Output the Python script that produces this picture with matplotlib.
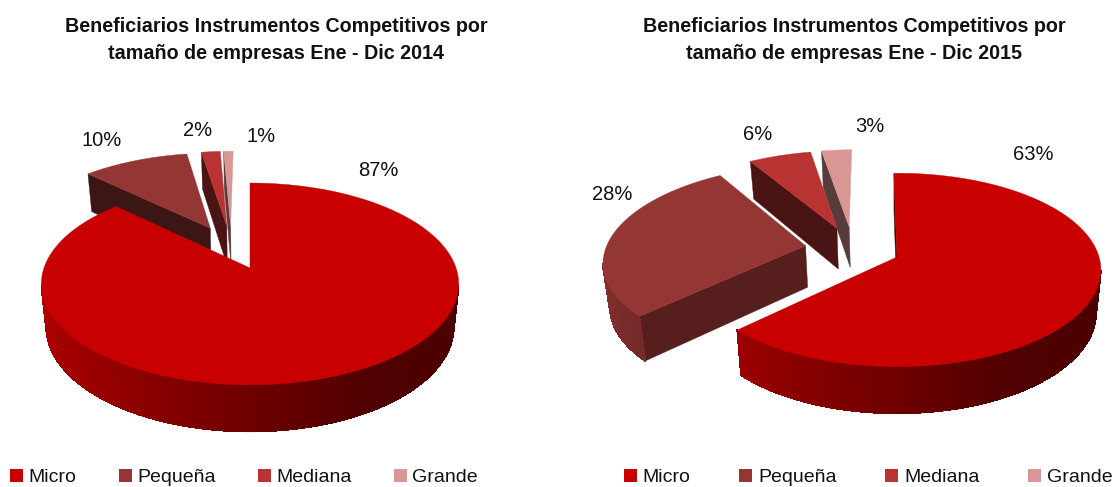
import matplotlib
matplotlib.use("Agg")
import matplotlib.pyplot as plt
from matplotlib.collections import LineCollection, PolyCollection
from matplotlib.colors import to_rgb
from matplotlib.patches import Polygon, Rectangle
import numpy as np

plt.rcParams['font.family'] = ['Liberation Sans', 'DejaVu Sans']

categories = ['Micro', 'Pequeña', 'Mediana', 'Grande']
values_2014 = [87.2, 10.1, 1.8, 0.9]
values_2015 = [63, 28.4, 5.8, 2.8]
colors = ['#C80000', '#943634', '#BA3333', '#D99694']
title_2014 = 'Beneficiarios Instrumentos Competitivos por\ntamaño de empresas Ene - Dic 2014'
title_2015 = 'Beneficiarios Instrumentos Competitivos por\ntamaño de empresas Ene - Dic 2015'

W, H = 1114, 487
EXPLODE = 0.24
DEPTH = 42
TEXT_COLOR = '#111111'


def shade(color, f):
    return tuple(c * f for c in to_rgb(color))


def wall_factor(u):
    # lighter on the left, dark on the right
    return np.interp(u, [-1, 0, 0.5, 1], [0.87, 0.55, 0.40, 0.38])


def draw_pie(ax, values, x0, y0, a, b, k, start, label_pos):
    def top(u, v):
        s = 1 + k * v
        return x0 + a * u / s, y0 - b * v / s

    def bottom(u, v):
        # the lower face sits a bit smaller because of the perspective
        x, y = top(u, v)
        return x0 + (x - x0) * 0.977, y + DEPTH / (1 + 0.1 * v)

    def flat_wall(i, cu, cv, u, v, f):
        c = shade(colors[i], f)
        p0, p1 = top(cu, cv), top(u, v)
        p2, p3 = bottom(u, v), bottom(cu, cv)
        ax.add_patch(Polygon([p0, p1, p2, p3], fc=c, ec=c, lw=0.3))

    total = sum(values)
    edges = start + np.cumsum([0] + list(values)) / total * 360
    mids = (edges[:-1] + edges[1:]) / 2
    du = np.sin(np.radians(mids))
    dv = np.cos(np.radians(mids))
    # back slices first, the first one (Micro) is in front
    for i in range(len(values) - 1, -1, -1):
        cu = EXPLODE * (du[i] - du[0])
        cv = EXPLODE * (dv[i] - dv[0])
        ang = np.radians(np.linspace(edges[i], edges[i + 1], 200))
        u = cu + np.sin(ang)
        v = cv + np.cos(ang)
        x, y = top(u, v)
        xb, yb = bottom(u, v)
        cx, cy = top(cu, cv)

        # flat walls
        if x[0] < cx:
            normal = (edges[i] - 90) % 360
            flat_wall(i, cu, cv, u[0], v[0], 0.58 if normal < 180 else 0.40)
        if x[-1] > cx + 6:
            flat_wall(i, cu, cv, u[-1], v[-1], 0.58)

        # curved wall, only the part facing us
        quads = []
        segs = []
        cols = []
        for j in range(len(x) - 1):
            if x[j + 1] < x[j]:
                quads.append([(x[j], y[j]), (x[j + 1], y[j + 1]), (xb[j + 1], yb[j + 1]), (xb[j], yb[j])])
                segs.append([(xb[j], yb[j]), (xb[j + 1], yb[j + 1])])
                cols.append(shade(colors[i], wall_factor(np.sin(ang[j]))))
        if quads:
            ax.add_collection(PolyCollection(quads, facecolors=cols, edgecolors=cols,
                                             linewidths=0.5, antialiaseds=False))
            ax.add_collection(LineCollection(segs, colors=cols, linewidths=0.8))

        ax.add_patch(Polygon(np.column_stack([np.r_[cx, x], np.r_[cy, y]]),
                             fc=colors[i], ec=colors[i], lw=0.3))

        lx, ly = label_pos[i]
        ax.text(lx, ly, f'{values[i]:.0f}%', fontsize=14.5, ha='center', va='center', color=TEXT_COLOR)


def draw_legend(ax, squares, texts, y=475.5):
    for c, name, sx, tx in zip(colors, categories, squares, texts):
        ax.add_patch(Rectangle((sx, y - 6.5), 13, 13, fc=c, ec='none'))
        ax.text(tx, y + 2, name, fontsize=14, ha='left', va='center', color=TEXT_COLOR)


fig = plt.figure(figsize=(W / 100, H / 100), dpi=100)
ax = fig.add_axes([0, 0, 1, 1])
ax.set_xlim(0, W)
ax.set_ylim(H, 0)
ax.axis('off')

draw_pie(ax, values_2014, 250, 268, 206, 98.4, 0.158, 0,
         [(378, 170), (102, 141), (198, 131), (261, 137)])
draw_pie(ax, values_2015, 897, 257, 202, 95, 0.134, -1,
         [(1033, 154), (612, 195), (758, 134), (870, 127)])

ax.text(276, 40, title_2014, fontsize=14.2, fontweight='bold', ha='center', va='center',
        linespacing=1.5, color=TEXT_COLOR)
ax.text(854, 40, title_2015, fontsize=14.2, fontweight='bold', ha='center', va='center',
        linespacing=1.5, color=TEXT_COLOR)

draw_legend(ax, [10, 119, 258, 394], [28, 137, 276, 412])
draw_legend(ax, [624, 739, 885, 1028], [642, 758, 904, 1047])

fig.savefig('out.png', dpi=100)
